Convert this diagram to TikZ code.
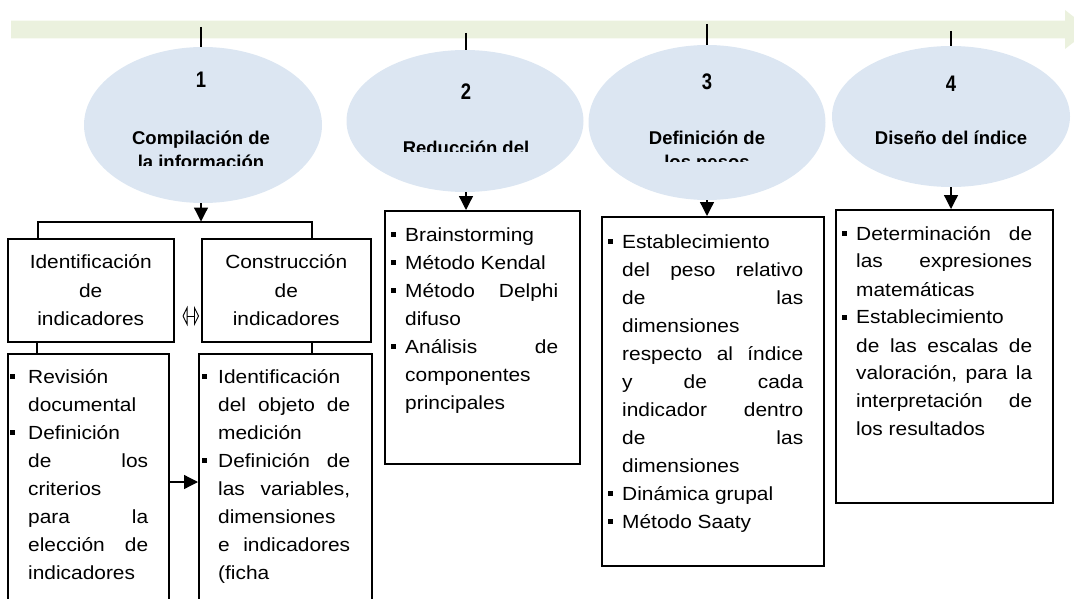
\documentclass[tikz,border=0pt]{standalone}
\usepackage{graphicx}
\usepackage{fontspec}
\setmainfont{Liberation Sans}
\newfontfamily\boxf{Liberation Sans}[FakeStretch=1.1]
\usetikzlibrary{arrows.meta,shapes.geometric}
\definecolor{bandc}{HTML}{EBF1DE}
\definecolor{ellc}{HTML}{DCE6F2}
\newlength\lw
\newlength\bg
\newcommand\bul{\llap{\rule[4pt]{5.5pt}{5.5pt}\hskip\bg}}
\newcommand\Lrow[1]{\hbox to \lw{#1}}
\newcommand\Brow[1]{\hbox to \lw{\bul#1}}
\newcommand\lst[3]{\vtop{\lw=#1pt\relax\bg=#2pt\relax\baselineskip=28pt\relax\lineskiplimit=-20pt\relax#3}}
\tikzset{
  box/.style={draw, line width=1.5pt, inner sep=0pt, anchor=north west},
  hbox/.style={box, align=center, font=\boxf\fontsize{19}{28.5}\selectfont},
  lstx/.style={inner sep=0pt, anchor=base west, font=\boxf\fontsize{19}{28}\selectfont},
  con/.style={line width=1.3pt},
  arr/.style={con, -{Triangle[length=14pt,width=14pt]}},
  ellip/.style={ellipse, fill=ellc, draw=none, inner sep=0pt},
  etxt/.style={inner sep=0pt, anchor=base, font=\bfseries\fontsize{18.5}{23}\selectfont},
  num/.style={inner sep=0pt, anchor=base, font=\bfseries\fontsize{22.5}{24}\selectfont},
}
\begin{document}
\begin{tikzpicture}[x=1pt,y=-1pt]
\useasboundingbox (0,0) rectangle (1074,599);
\clip (0,0) rectangle (1074,599);
% timeline band
\fill[bandc] (11,20.7) -- (1065,20.7) -- (1065,10) -- (1090,29.5) -- (1065,49) -- (1065,38.3) -- (11,38.3) -- cycle;
% ellipses
\node[ellip, minimum width=238, minimum height=156] (e1) at (203,125) {};
\node[ellip, minimum width=237, minimum height=142] (e2) at (465,121) {};
\node[ellip, minimum width=237, minimum height=155] (e3) at (707,122.5) {};
\node[ellip, minimum width=238, minimum height=141] (e4) at (951,116.5) {};
% ticks
\coordinate (t1) at (201,27);
\coordinate (t2) at (466,33);
\coordinate (t3) at (707,24);
\coordinate (t4) at (951,31);
\draw[con] (t1) -- (t1 |- e1.north);
\draw[con] (t2) -- (t2 |- e2.north);
\draw[con] (t3) -- (t3 |- e3.north);
\draw[con] (t4) -- (t4 |- e4.north);
% ellipse texts
\begin{scope}
\clip (80,40) rectangle (330,166);
\node[num] (n1) at (201,88) {\scalebox{0.82}[1]{1}};
\node[etxt] (l1a) at (201,145) {Compilación de};
\node[etxt] (l1b) at (201,168) {la información};
\end{scope}
\begin{scope}
\clip (340,40) rectangle (590,152);
\node[num] (n2) at (466,100) {\scalebox{0.82}[1]{2}};
\node[etxt] (l2a) at (466,155) {Reducción del};
\end{scope}
\begin{scope}
\clip (585,40) rectangle (830,162);
\node[num] (n3) at (707,90) {\scalebox{0.82}[1]{3}};
\node[etxt] (l3a) at (707,145) {Definición de};
\node[etxt] (l3b) at (707,168) {los pesos};
\end{scope}
\node[num] (n4) at (951,92) {\scalebox{0.82}[1]{4}};
\node[etxt] (l4a) at (951,145) {Diseño del índice};
% boxes column 1
\node[hbox, minimum width=166, minimum height=103] (b1a) at (7,238) {Identificación\\de\\indicadores};
\node[hbox, minimum width=169, minimum height=103] (b1b) at (201,238) {Construcción\\de\\indicadores};
\node[box, minimum width=161, minimum height=257] (b1c) at (7,353) {};
\node[box, minimum width=173, minimum height=257] (b1d) at (198,353) {};
\node[box, minimum width=195, minimum height=253] (b2) at (384,210) {};
\node[box, minimum width=222, minimum height=349] (b3) at (601,216) {};
\node[box, minimum width=217, minimum height=293] (b4) at (835,209) {};
% connectors
\coordinate (j1) at (201,221.5);
\coordinate (k1) at (38,222);
\coordinate (k2) at (312,222);
\draw[arr] (t1 |- e1.south) -- (j1);
\draw[con] (b1a.north -| k1) -- (k1) -- (k2) -- (b1b.north -| k2);
\coordinate (v1) at (37,0);
\coordinate (v2) at (312,0);
\draw[con] (b1a.south -| v1) -- (b1c.north -| v1);
\draw[con] (b1b.south -| v2) -- (b1d.north -| v2);
\coordinate (h1) at (0,482);
\draw[arr] (b1c.east |- h1) -- (b1d.west |- h1);
\coordinate (d1) at (0,316);
\draw[line width=0.9pt, {Triangle[open,length=5pt,width=20pt]}-{Triangle[open,length=5pt,width=20pt]}, shorten <=8pt, shorten >=2pt] (b1a.east |- d1) -- (b1b.west |- d1);
\draw[arr] (t2 |- e2.south) -- (t2 |- b2.north);
\draw[arr] (t3 |- e3.south) -- (t3 |- b3.north);
\draw[arr] (t4 |- e4.south) -- (t4 |- b4.north);
% list texts
\node[lstx] (x1c) at (28,383) {\lst{120}{13}{%
\Brow{Revisión\hfill}
\Lrow{documental\hfill}
\Brow{Definición\hfill}
\Lrow{de\hfill los}
\Lrow{criterios\hfill}
\Lrow{para\hfill la}
\Lrow{elección\hfill de}
\Lrow{indicadores\hfill}}};
\node[lstx] (x1d) at (218,383) {\lst{132}{11}{%
\Brow{Identificación\hfill}
\Lrow{del\hfill objeto\hfill de}
\Lrow{medición\hfill}
\Brow{Definición\hfill de}
\Lrow{las\hfill variables,}
\Lrow{dimensiones\hfill}
\Lrow{e\hfill indicadores}
\Lrow{(ficha\hfill}}};
\node[lstx] (x2) at (405,241) {\lst{153}{9}{%
\Brow{Brainstorming\hfill}
\Brow{Método Kendal\hfill}
\Brow{Método\hfill Delphi}
\Lrow{difuso\hfill}
\Brow{Análisis\hfill de}
\Lrow{componentes\hfill}
\Lrow{principales\hfill}}};
\node[lstx] (x3) at (622,248) {\lst{181}{9}{%
\Brow{Establecimiento\hfill}
\Lrow{del\hfill peso\hfill relativo}
\Lrow{de\hfill las}
\Lrow{dimensiones\hfill}
\Lrow{respecto\hfill al\hfill índice}
\Lrow{y\hfill de\hfill cada}
\Lrow{indicador\hfill dentro}
\Lrow{de\hfill las}
\Lrow{dimensiones\hfill}
\Brow{Dinámica grupal\hfill}
\Brow{Método Saaty\hfill}}};
\node[lstx] (x4) at (856,240) {\lst{176}{9}{%
\Brow{Determinación\hfill de}
\Lrow{las\hfill expresiones}
\Lrow{matemáticas\hfill}
\Brow{Establecimiento\hfill}
\Lrow{de\hfill las\hfill escalas\hfill de}
\Lrow{valoración,\hfill para\hfill la}
\Lrow{interpretación\hfill de}
\Lrow{los resultados\hfill}}};
\end{tikzpicture}
\end{document}
